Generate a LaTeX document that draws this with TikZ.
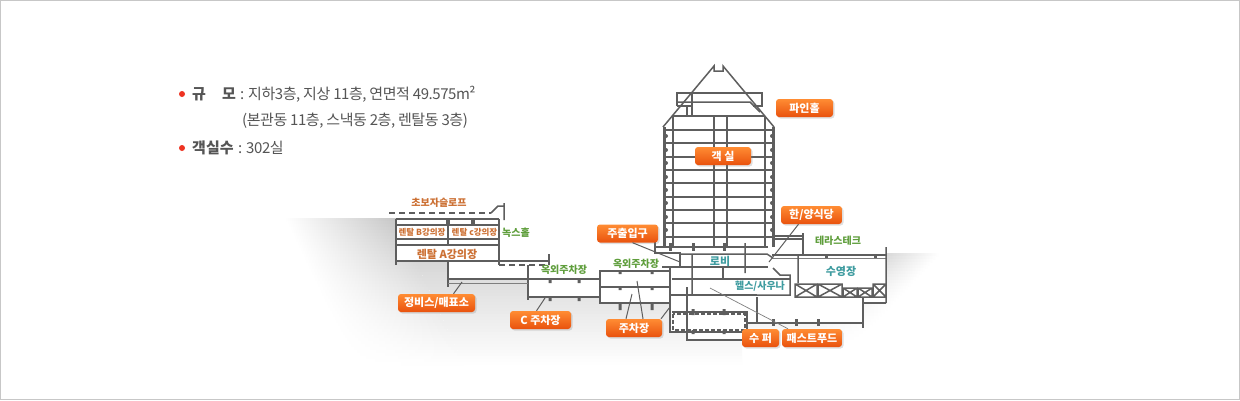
\documentclass[tikz,border=0pt]{standalone}
\usepackage{fontspec}
\setmainfont{Noto Sans CJK KR}
\newfontfamily\infofont{Noto Sans CJK KR}[LetterSpace=-3]
\usetikzlibrary{shadows}
\definecolor{wallgray}{HTML}{5E5E5E}
\definecolor{labelorange}{HTML}{CC7033}
\definecolor{labelgreen}{HTML}{5F9E3C}
\definecolor{labelteal}{HTML}{3F9CA0}
\definecolor{infotext}{HTML}{555555}
\definecolor{tagtop}{HTML}{FF8C33}
\definecolor{tagbottom}{HTML}{E9520E}
\definecolor{bulletred}{HTML}{EE3322}
\tikzset{
  wall/.style={draw=wallgray,line width=1.5pt},
  thinwall/.style={draw=wallgray!80,line width=1pt},
  lead/.style={draw=wallgray,line width=1pt},
  tag/.style={rounded corners=3pt,top color=tagtop,bottom color=tagbottom,
    drop shadow={shadow xshift=1.5pt,shadow yshift=-1.5pt,opacity=0.25},
    text=white,font=\fontsize{11}{11}\selectfont\bfseries,inner sep=0pt,minimum height=18pt},
  room/.style={font=\fontsize{10}{10}\selectfont\bfseries,inner sep=0pt},
  info/.style={anchor=base west,inner sep=0pt,text=infotext,font=\infofont\fontsize{15}{15}\selectfont}
}
\begin{document}
\begin{tikzpicture}[x=1pt,y=-1pt]
  \useasboundingbox (0,0) rectangle (1240,400);
  \draw[draw=black!22,line width=1.5pt,fill=white] (0.5,0.5) rectangle (1239.5,399.5);

  % shadow on the ground
  \begin{scope}
    \clip (295,218) -- (499,218) -- (499,265) -- (528,265) -- (528,297) -- (600,297) -- (600,303) -- (670,303) -- (670,333) -- (687,333) -- (687,340) -- (742,340) -- (742,375) -- (285,375) -- (285,218) -- cycle;
    \foreach \y in {218,221,...,362} {
      \pgfmathsetmacro{\xa}{285+0.466*(\y-218)}
      \pgfmathsetmacro{\xb}{\xa+111}
      \pgfmathsetmacro{\p}{22*(1-(\y-218)/147)}
      \shade[left color=white,right color=black!\p] (\xa,\y) rectangle (\xb,\y+3.3);
      \fill[black!\p] (\xb,\y) rectangle (750,\y+3.3);
    }
  \end{scope}
  \begin{scope}
    \clip (886,253) -- (960,253) -- (960,375) -- (747,375) -- (747,323) -- (863,323) -- (863,303) -- (886,303) -- cycle;
    \foreach \y in {253,256,...,343} {
      \pgfmathsetmacro{\xb}{886-0.93*(\y-253)}
      \pgfmathsetmacro{\xc}{\xb+53}
      \pgfmathsetmacro{\p}{15*(1-(\y-253)/93)}
      \fill[black!\p] (747,\y) rectangle (\xb,\y+3.3);
      \shade[left color=black!\p,right color=white] (\xb,\y) rectangle (\xc,\y+3.3);
    }
  \end{scope}

  % tower
  \draw[wall] (663,127) -- (714,66) -- (714,71) -- (723,71) -- (723,66) -- (774,127);
  \draw[wall] (677,106) -- (677,93) -- (762,93) -- (762,106) -- (753,106);
  \draw[wall] (692,116) -- (692,93) (677,106) -- (692,106);
  \draw[wall] (677,102) -- (750,102) -- (760,112);
  \draw[wall] (687,106) -- (687,116);
  \draw[line width=2.5pt,draw=wallgray] (664.5,127) -- (664.5,247) (773.5,127) -- (773.5,247);
  \foreach \y in {116,130,143,157,170,183,197,210,223,237}
    \draw[wall] (673,\y) -- (765,\y);
  \foreach \y in {130,143,157,170,183,197,210,223,237}
    \draw[wall] (664,\y) -- (673,\y) (765,\y) -- (774,\y);
  \foreach \x in {673,714,727,765}
    \draw[wall] (\x,116) -- (\x,247);
  \foreach \y in {136,150,163,177,190,203,217,230}
    \fill[wallgray] (666,\y) circle (2pt) (772,\y) circle (2pt);

  % rental block
  \fill[white] (396,219) rectangle (499,261);
  \fill[white] (448,261) rectangle (528,279);
  \fill[white] (528,271) rectangle (670,297) (600,297) rectangle (670,303);
  \draw[wall,dashed,dash pattern=on 6pt off 4pt] (389,213) -- (491,213);
  \draw[wall] (491,213) -- (498,206) -- (504,206) (504,203) -- (504,220);
  \draw[wall] (396,219) -- (499,219) (396,225) -- (499,225) (396,239) -- (499,239) (396,245) -- (499,245) (396,261) -- (499,261);
  \draw[wall] (396,219) -- (396,265) (448,219) -- (448,245) (499,219) -- (499,265);
  \draw[wall] (448,261) -- (448,287) (499,261) -- (549,261) (549,254) -- (549,265);
  \draw[wall,dashed,dash pattern=on 6pt off 4pt] (499,265) -- (549,265);
  \draw[wall] (448,279) -- (528,279) (528,265) -- (528,300) (528,279) -- (600,279) (528,297) -- (600,297);
  \draw[thinwall] (448,283) -- (528,283);
  \foreach \x in {448,473}
    \fill[wallgray] (\x-2,219) rectangle (\x+2,224);
  \foreach \x in {550,579}
    \fill[wallgray] (\x-1.5,279) rectangle (\x+1.5,283) (\x-1.5,297) rectangle (\x+1.5,301);

  % parking
  \draw[wall] (600,271) rectangle (670,303) (600,287) -- (670,287) (662,267) -- (768,267);
  \foreach \x in {620,652}
    \fill[wallgray] (\x-1.5,271) rectangle (\x+1.5,274) (\x-1.5,287) rectangle (\x+1.5,290) (\x-1.5,303) rectangle (\x+1.5,310);

  % lobby
  \draw[wall] (655,247) -- (768,247) (655,242) -- (655,253) -- (680,253) -- (680,267);
  \foreach \x in {670,693,724}
    \fill[wallgray] (\x-1.5,243) rectangle (\x+1.5,251);
  \draw[wall] (680,254) -- (767,254) -- (773,258) (692,255) -- (692,295) (745,243) -- (745,273);
  \draw[wall] (670,268) -- (670,333) (672,279) -- (790,279) (723,279) -- (723,267) (670,295) -- (757,295);
  \draw[wall] (687,287) -- (687,340) -- (742,340) (670,332) -- (742,332) (672,312) -- (747,312) -- (747,330) (757,297) -- (757,322);
  \draw[wall,line width=1.2pt,dashed,dash pattern=on 4pt off 2pt] (673,314) rectangle (745,330);
  \foreach \x in {693,724}
    \fill[wallgray] (\x-1.5,309) rectangle (\x+1.5,315) (\x-1.5,330) rectangle (\x+1.5,334);

  % pool and terrace
  \draw[wall] (772,236) -- (803,236) (772,239) -- (803,239) (803,233) -- (803,255) (772,255) -- (886,255);
  \draw[thinwall] (772,258) -- (886,258);
  \draw[wall] (886,247) -- (886,303) (773,268) -- (780,275) -- (790,275) -- (790,295) -- (757,295) (798,255) -- (798,283);
  \foreach \a/\b/\t in {795/817/284,818/842/284,843/857/288,858/872/288,873/886/284}
    \draw[wall] (\a,\t) rectangle (\b,297) (\a,\t) -- (\b,297) (\a,297) -- (\b,\t);
  \draw[wall] (863,303) -- (886,303) (863,297) -- (863,328) (747,323) -- (863,323);
  \foreach \x in {826,875}
    \fill[wallgray] (\x-1.5,255) rectangle (\x+1.5,258);
  \foreach \x in {773,796,818}
    \fill[wallgray] (\x-1.5,319) rectangle (\x+1.5,326);

  % room names
  \node[room,text=labelorange] (slope) at (439,203) {초보자슬로프};
  \node[room,text=labelorange,font=\fontsize{8.5}{9}\selectfont\bfseries] (rentB) at (422,232) {렌탈 B강의장};
  \node[room,text=labelorange,font=\fontsize{8.5}{9}\selectfont\bfseries] (rentC) at (474.5,232) {렌탈 c강의장};
  \node[room,text=labelorange,font=\fontsize{11}{11}\selectfont\bfseries] (rentA) at (447,254) {렌탈 A강의장};
  \node[room,text=labelgreen] (rokshall) at (516,233) {녹스홀};
  \node[room,text=labelgreen] (parkC) at (564,270) {옥외주차장};
  \node[room,text=labelgreen] (parkM) at (636,264) {옥외주차장};
  \node[room,text=labelteal,font=\fontsize{11}{11}\selectfont\bfseries] (lobby) at (720,261) {로비};
  \node[room,text=labelteal] (gym) at (760,286.5) {헬스/사우나};
  \node[room,text=labelteal,font=\fontsize{11}{11}\selectfont\bfseries] (pool) at (841,271) {수영장};
  \node[room,text=labelgreen] (terrace) at (838,241) {테라스테크};

  % orange tags
  \node[tag,minimum width=57pt] (tagPine) at (804.5,108) {파인홀};
  \node[tag,minimum width=56pt] (tagRoom) at (723,156) {객 실};
  \node[tag,minimum width=61pt] (tagHan) at (811.5,215) {한/양식당};
  \node[tag,minimum width=61pt] (tagEntry) at (627.5,233.5) {주출입구};
  \node[tag,minimum width=77pt] (tagTicket) at (436.5,303) {정비스/매표소};
  \node[tag,minimum width=61pt] (tagParkC) at (540.5,320) {C 주차장};
  \node[tag,minimum width=56pt] (tagPark) at (634,328) {주차장};
  \node[tag,minimum width=37pt] (tagSuper) at (760.5,338) {수 퍼};
  \node[tag,minimum width=60pt] (tagFood) at (812,338) {패스트푸드};

  % leaders
  \coordinate (hanEnd) at (769,262);
  \coordinate (entryEnd) at (680,262);
  \coordinate (ticketEnd) at (462,282);
  \coordinate (parkCEnd) at (545,298);
  \coordinate (parkEndA) at (632,294);
  \coordinate (parkEndB) at (637,281);
  \coordinate (parkEndC) at (670,307);
  \coordinate (foodEnd) at (710,288);
  \draw[lead] ([xshift=-13pt]tagHan.south) -- (hanEnd);
  \draw[lead] ([xshift=5pt]tagEntry.south) -- (entryEnd);
  \draw[lead] ([xshift=17pt]tagTicket.north) -- (ticketEnd);
  \draw[lead] ([xshift=-4pt]tagParkC.north) -- (parkCEnd);
  \draw[lead] ([xshift=-8pt]tagPark.north) -- (parkEndA);
  \draw[lead] ([xshift=9pt]tagPark.north) -- (parkEndB);
  \draw[lead] ([xshift=27pt]tagPark.north) -- (parkEndC);
  \draw[thinwall,line width=0.7pt] ([xshift=-24pt]tagFood.north) -- (foodEnd);

  % building facts
  \fill[bulletred] (182,94) circle (3pt) (182,148) circle (3pt);
  \node[info,font=\fontsize{15}{15}\selectfont\bfseries] (scaleA) at (192,99) {규};
  \node[info,font=\fontsize{15}{15}\selectfont\bfseries] (scaleB) at (222,99) {모};
  \node[info] (scaleText) at (240,99) {: 지하3층, 지상 11층, 연면적 49.575m²};
  \node[info] (scaleMore) at (242,125) {(본관동 11층, 스낵동 2층, 렌탈동 3층)};
  \node[info,font=\fontsize{15}{15}\selectfont\bfseries] (roomsA) at (192,153) {객실수};
  \node[info] (roomsB) at (238,153) {: 302실};
\end{tikzpicture}
\end{document}
